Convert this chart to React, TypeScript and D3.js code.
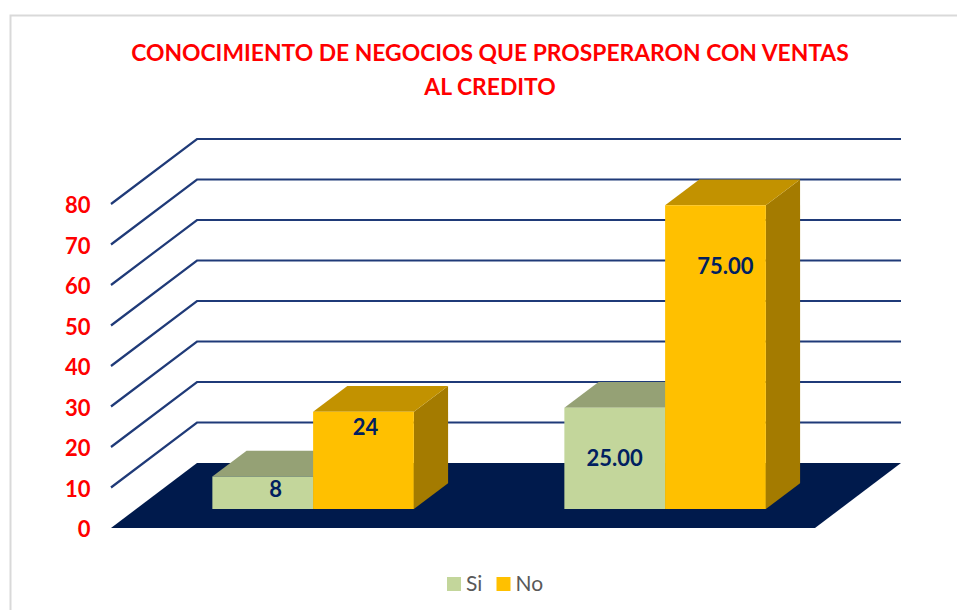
import React from "react";
import * as d3 from "d3";

const categories = ["A", "B"];
const seriesNames = ["Si", "No"];
const siValues = [8, 25];
const noValues = [24, 75];
const valueLabels = [["8", "25.00"], ["24", "75.00"]];
const ticks = [0, 10, 20, 30, 40, 50, 60, 70, 80];
const titleLines = ["CONOCIMIENTO DE NEGOCIOS QUE PROSPERARON CON VENTAS", "AL CREDITO"];

const FONT = "Lato, Carlito, Calibri, 'Open Sans', sans-serif";
const NAVY = "#001a4c";
const LABEL = "#002060";
const GRID = "#1f3a78";
const faces = [
  { front: "#c3d69b", top: "#95a175", side: "#8f9d6e" },
  { front: "#ffc000", top: "#c29200", side: "#a47b00" },
];
// Label nudges relative to each bar's front face: [series][category]
const labelPlacement = [
  [{ dx: 13, dy: 12 }, { dx: 0, dy: 50 }],
  [{ dx: 2, dy: 15 }, { dx: 10, dy: 61 }],
];

const floorX0 = 111, floorX1 = 815, floorY = 528;
const depthX = 86, depthY = 65;
const x = d3.scaleBand<string>().domain(categories).range([floorX0, floorX1]);
const y = d3.scaleLinear().domain([0, 80]).range([0, 324]);
const z = d3.scaleLinear().domain([0, 1]).range([0, 1]);
const BAR_W = 100.75;
const Z_FRONT = 0.292, Z_BACK = 0.69;
const BAR_SHIFT = 1;

const proj = (px: number, value: number, depth: number): [number, number] => [
  px + z(depth) * depthX,
  floorY - y(value) - z(depth) * depthY,
];
const poly = (pts: [number, number][]) => {
  const p = d3.path();
  pts.forEach((q, i) => (i ? p.lineTo(q[0], q[1]) : p.moveTo(q[0], q[1])));
  p.closePath();
  return p.toString();
};

export default function App() {
  const series = [siValues, noValues];
  return (
    <svg width={957} height={610} style={{ position: "absolute", left: 0, top: 0, background: "#fff" }} fontFamily={FONT}>
      <path d="M10.5 610V15.5H957" fill="none" stroke="#d9d9d9" strokeWidth={2} />
      {titleLines.map((t, i) => (
        <text key={t} x={490} y={61 + i * 33.5} textAnchor="middle" fontSize={22.85} fontWeight={700} fill="#ff0000">{t}</text>
      ))}
      <path
        d={poly([proj(floorX0, 0, 0), proj(floorX0, 0, 1), proj(floorX1, 0, 1), proj(floorX1, 0, 0)])}
        fill={NAVY}
      />
      {ticks.filter((t) => t > 0).map((t) => {
        const a = proj(floorX0, t, 0), b = proj(floorX0, t, 1), c = proj(floorX1, t, 1);
        return (
          <polyline key={t} points={[a, b, c].map((q) => q.join(",")).join(" ")} fill="none" stroke={GRID} strokeWidth={2.2} />
        );
      })}
      {ticks.map((t) => (
        <text key={t} x={90.5} y={floorY - y(t) + 9} textAnchor="end" fontSize={22} fontWeight={700} fill="#ff0000">{t}</text>
      ))}
      {categories.map((c, ci) => {
        const center = (x(c) as number) + x.bandwidth() / 2 + BAR_SHIFT;
        return series.map((vals, si) => {
          const x0 = center + (si - 1) * BAR_W;
          const x1 = x0 + BAR_W;
          const v = vals[ci];
          const f = faces[si];
          const frontTL = proj(x0, v, Z_FRONT), frontTR = proj(x1, v, Z_FRONT);
          const frontBR = proj(x1, 0, Z_FRONT), frontBL = proj(x0, 0, Z_FRONT);
          const backTL = proj(x0, v, Z_BACK), backTR = proj(x1, v, Z_BACK), backBR = proj(x1, 0, Z_BACK);
          return (
            <g key={c + si}>
              <path d={poly([frontTR, backTR, backBR, frontBR])} fill={f.side} />
              <path d={poly([frontTL, backTL, backTR, frontTR])} fill={f.top} />
              <path d={poly([frontTL, frontTR, frontBR, frontBL])} fill={f.front} />
            </g>
          );
        });
      })}
      {categories.map((c, ci) => {
        const center = (x(c) as number) + x.bandwidth() / 2 + BAR_SHIFT;
        return series.map((vals, si) => {
          const x0 = center + (si - 1) * BAR_W;
          const [fx, top] = proj(x0, vals[ci], Z_FRONT);
          const pl = labelPlacement[si][ci];
          return (
            <text key={c + si} x={fx + pl.dx + BAR_W / 2} y={top + pl.dy + 8} textAnchor="middle" fontSize={22} fontWeight={700} fill={LABEL}>
              {valueLabels[si][ci]}
            </text>
          );
        });
      })}
      {seriesNames.map((s, i) => {
        const lx = 447 + i * 49.5;
        return (
          <g key={s}>
            <rect x={lx} y={577} width={14} height={14} fill={faces[i].front} />
            <text x={lx + 19} y={591} fontSize={21} fill="#595959">{s}</text>
          </g>
        );
      })}
    </svg>
  );
}
